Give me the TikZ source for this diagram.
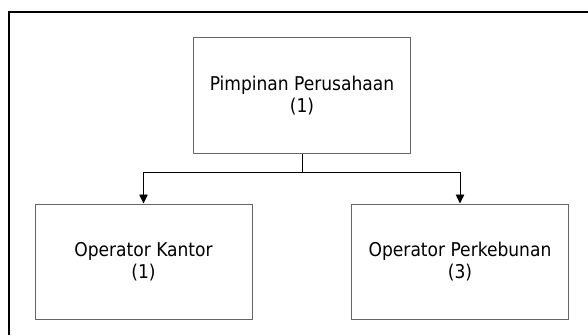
\documentclass[tikz,border=0pt]{standalone}
\usepackage{fontspec}
\setmainfont{DejaVu Sans Condensed}
\usetikzlibrary{arrows.meta}

\newcommand{\unitfont}{\fontsize{19}{22}\selectfont}

\begin{document}
\begin{tikzpicture}[x=1pt,y=1pt]

\tikzset{unit/.style={rectangle,draw=black!60,line width=1pt,minimum width=217pt,minimum height=115pt,inner sep=0pt,align=center,font=\unitfont}}
\tikzset{link/.style={draw=black,line width=0.8pt,-{Triangle[length=9pt,width=8.5pt]}}}

\useasboundingbox (0,0) rectangle (588,335);

%outer frame
\draw[line width=1.6pt] (9,0) -- (9,323) -- (588,323);

\node[unit] (pimpinan) at (302,239.5) {Pimpinan Perusahaan\\(1)};
\node[unit] (kantor) at (143.5,73.5) {Operator Kantor\\(1)};
\node[unit] (kebun) at (460,73.5) {Operator Perkebunan\\(3)};

\coordinate (split) at (pimpinan.south |- 0,163);

%branches
\draw[line width=0.8pt] (pimpinan.south) -- (split);
\draw[link] (split) -| (kantor.north);
\draw[link] (split) -| (kebun.north);

\end{tikzpicture}
\end{document}
